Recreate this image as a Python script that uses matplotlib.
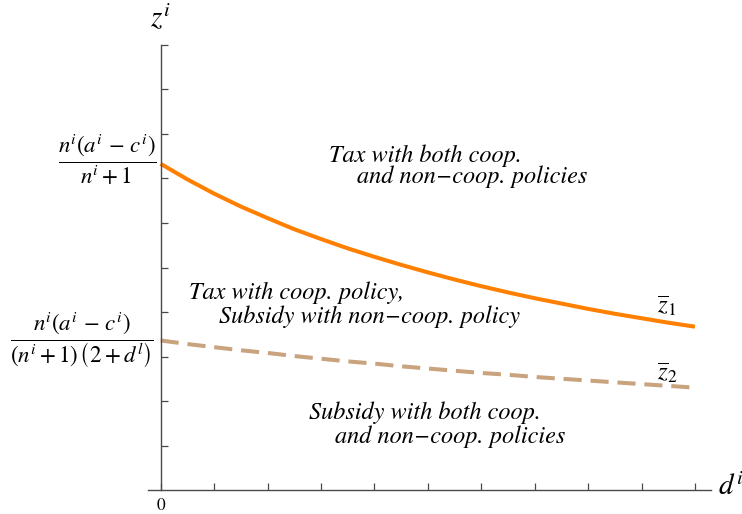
import matplotlib
matplotlib.use("Agg")
import matplotlib.pyplot as plt
from matplotlib.transforms import blended_transform_factory

plt.rcParams["mathtext.fontset"] = "stix"

# Curve readings along d^i
d_vals = [0, 0.5, 1, 1.5, 2, 2.5, 3, 3.5, 4, 4.5, 5,
          5.5, 6, 6.5, 7, 7.5, 8, 8.5, 9, 9.5, 10]
z1_vals = [7.33, 6.98, 6.66, 6.37, 6.11, 5.86, 5.64, 5.43, 5.24, 5.06, 4.89,
           4.73, 4.58, 4.44, 4.31, 4.19, 4.07, 3.96, 3.86, 3.76, 3.67]
z2_vals = [3.36, 3.28, 3.21, 3.14, 3.08, 3.01, 2.95, 2.89, 2.84, 2.78, 2.73,
           2.68, 2.63, 2.59, 2.54, 2.50, 2.46, 2.42, 2.38, 2.34, 2.30]

x_ticks = [0, 1, 2, 3, 4, 5, 6, 7, 8, 9, 10]
x_tick_labels = ["0", "", "", "", "", "", "", "", "", "", ""]
y_ticks = [1, 2, 3, 4, 5, 6, 7, 8, 9, 10]

y_label_tex = [
    r"$\dfrac{n^i(a^i\,-\,c^i)}{n^i+1}$",
    r"$\dfrac{n^i(a^i\,-\,c^i)}{(n^i+1)\,\left(2+d^{l}_{\;}\right)}$",
]

region_lines = [
    ("Tax with both coop.", 3.15, 7.36),
    ("and non\u2212coop. policies", 3.67, 6.91),
    ("Tax with coop. policy,", 0.53, 4.30),
    ("Subsidy with non\u2212coop. policy", 1.09, 3.76),
    ("Subsidy with both coop.", 2.78, 1.60),
    ("and non\u2212coop. policies", 3.26, 1.06),
]

W, H = 742, 514
fig = plt.figure(figsize=(W / 100, H / 100), dpi=100)
ax = fig.add_axes([148.4 / W, 24 / H, (711 - 148.4) / W, 445 / H])
ax.set_xlim(-0.23, 10.3)
ax.set_ylim(0, 10)

axis_col = "#4a4a4a"
for s in ("top", "right"):
    ax.spines[s].set_visible(False)
ax.spines["left"].set_position(("data", 0))
ax.spines["left"].set_bounds(0, 10)
for s in ("left", "bottom"):
    ax.spines[s].set_color(axis_col)
    ax.spines[s].set_linewidth(1.0)

ax.set_xticks(x_ticks)
ax.set_xticklabels(x_tick_labels, family="STIXGeneral", fontsize=12.5)
ax.set_yticks(y_ticks)
ax.set_yticklabels([])
ax.tick_params(direction="in", length=5, width=0.9, color=axis_col)
ax.tick_params(axis="x", pad=6)

ax.plot(d_vals, z1_vals, color="#FF8000", lw=2.9, solid_capstyle="butt",
        clip_on=False)
ax.plot(d_vals, z2_vals, color="#C9A27E", lw=2.9, dashes=(4.5, 2.2),
        clip_on=False)

ax.text(9.29, 3.98, r"$\overline{z}_1$", fontsize=18, va="baseline")
ax.text(9.29, 2.47, r"$\overline{z}_2$", fontsize=18, va="baseline")

for txt, xd, yd in region_lines:
    ax.text(xd, yd, txt, family="STIXGeneral", style="italic",
            fontsize=17.5, va="baseline", ha="left")

trans = blended_transform_factory(fig.transFigure, ax.transData)
ax.text(107 / W, 7.41, y_label_tex[0], transform=trans, fontsize=16.5,
        ha="center", va="center")
ax.text(82 / W, 3.37, y_label_tex[1], transform=trans, fontsize=16.5,
        ha="center", va="center")

fig.text(160 / W, 1 - 27 / H, r"$z^i$", fontsize=21, ha="center",
         va="baseline")
fig.text(718 / W, 1 - 495 / H, r"$d^i$", fontsize=21, ha="left",
         va="baseline")

fig.savefig("out.png", dpi=100)
